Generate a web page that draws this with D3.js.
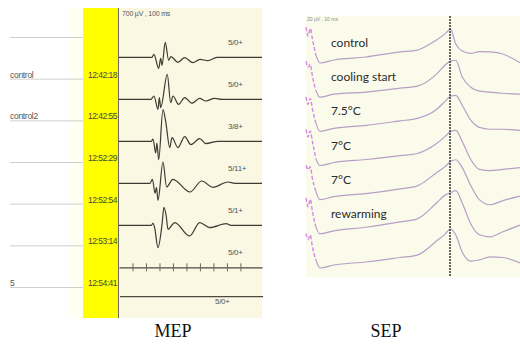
<!DOCTYPE html>
<html>
<head>
<meta charset="utf-8">
<script src="https://cdn.jsdelivr.net/npm/d3@7"></script>
<style>
  html, body { margin: 0; padding: 0; background: #fff; }
  svg { display: block; }
</style>
</head>
<body>
<div id="chart"></div>
<script>
// ---- MEP panel data ----
const mepRowLabels = ['', 'control', 'control2', '', '', '', '5'];
const mepClock = ['', '12:42:18', '12:42:55', '12:52:29', '12:52:54', '12:53:14', '12:54:41'];
const mepScores = ['5/0+', '5/0+', '3/8+', '5/11+', '5/1+', '5/0+', '5/0+'];
const mepScaleText = '700 \u00b5V , 100 ms';
const mepTicks = [10, 20, 30, 40, 50, 60, 70, 80, 90];

// time (ms) / amplitude (µV) turning points of each response
const mep1T = [0, 24.4, 25.9, 29.4, 30.9, 31.9, 34.3, 36.8, 38.5, 43.7, 48.7, 54.8, 60, 65.9, 72.6, 106];
const mep1V = [0, 0, 150, -550, -50, -400, 750, -150, 30, -250, -20, -270, -100, -170, 0, 0];
const mep2T = [0, 23.7, 25.9, 28.9, 29.9, 30.9, 35.8, 38.3, 40, 44.2, 48.7, 54.1, 59.8, 64.4, 70.9, 76.3, 106];
const mep2V = [0, 0, 165, -500, 85, -415, 1250, -165, 165, -250, 85, -200, 50, -85, 50, 0, 0];
const mep3T = [0, 23.9, 25.2, 27.2, 28.1, 29.4, 32.6, 34.6, 37.6, 39.3, 43.7, 48.7, 53.3, 59.8, 64.4, 73.3, 106];
const mep3V = [0, 0, 115, -585, -85, -915, 1585, 1000, -315, 185, -315, 235, -165, 135, -115, 0, 0];
const mep4T = [0, 23, 24.8, 26.7, 27.8, 28.9, 32.6, 35.3, 40, 52.6, 61.3, 69.6, 80.7, 85.9, 106];
const mep4V = [0, 0, 200, -500, -200, -850, 1065, -185, 200, -435, 115, -200, 65, 0, 0];
const mep5T = [0, 23.9, 25.2, 26.4, 28.9, 31.9, 33.3, 35, 36.3, 41.3, 52.4, 59.8, 67.2, 79.5, 83, 106];
const mep5V = [0, 0, 100, -115, -1115, 50, 900, 465, -200, 135, -535, 135, -115, 85, 0, 0];
const mepFlatT = [0, 106];
const mepFlatV = [0, 0];

// ---- SEP panel data ----
const sepLabels = ['control', 'cooling start', '7.5\u00b0C', '7\u00b0C', '7\u00b0C', 'rewarming', ''];
const sepScaleText = '20 \u00b5V , 10 ms';
const sepT = [0, 1, 2, 3, 4.5, 6.5, 13, 28, 44, 52, 61, 65, 67.5, 70, 73, 77, 81, 86, 92, 100];
const sepControl  = [12, 9, 11.5, 8, 3, 0, 1, 2, 3.7, 4.3, 7.7, 9.7, 11.3, 6.3, 4, 3.2, 3.8, 3.7, 3, 0.1];
const sepCooling  = [12, 10, 11, 7, 2.5, 0, 1, 1.7, 3, 3.7, 7.7, 10.7, 12, 12.3, 6.7, 3.3, 2, 1.7, 1.3, 1];
const sep75       = [11.5, 9, 11, 7.5, 3, 0, 1, 2, 3.5, 4.3, 7.3, 10, 11.7, 12, 8.7, 3.7, 1.3, 0.7, 0.7, 0.3];
const sep7a       = [12, 9.5, 11.5, 8, 2.5, 0, 1, 2, 3.3, 4, 7.3, 9.7, 11.3, 11.7, 8, 2, -1.3, -1.7, -1.3, -0.7];
const sep7b       = [11.5, 10, 11, 7, 3, 0, 1, 2, 3.6, 4.6, 9, 11, 12.7, 13.3, 10.7, 4.7, 0, -1.7, -0.3, 1.2];
const sepRewarm   = [12, 9, 11.5, 7.5, 2.5, 0, 1, 2.2, 4, 5, 10.3, 12.9, 13.7, 14.4, 10.3, 3.3, -0.3, -1, 0.7, 2.9];
const sepLast     = [11.5, 9.5, 11, 7, 3, 0, 1, 2, 3.5, 4.3, 9, 11.3, 13, 11, 5.3, 2.3, 2.7, 3.7, 3.5, 1.7];
const sepPeakLatency = 67.3;
const sepArtifactEnd = 4.5;

const captions = ['MEP', 'SEP'];

const width = 520, height = 347;
const svg = d3.select('#chart').append('svg')
  .attr('width', width)
  .attr('height', height);

// ===== MEP =====
const mepX = d3.scaleLinear().domain([0, 106]).range([119, 262]);
const mepAmp = d3.scaleLinear().domain([0, 700]).range([0, 14]);
const mepRow = d3.scalePoint().domain(d3.range(6)).range([57.3, 267.3]);
const mepLine = d3.scalePoint().domain(d3.range(7)).range([37, 287]);

svg.append('rect').attr('x', 70).attr('y', 8).attr('width', 13).attr('height', 310).attr('fill', '#fffff2');
svg.append('rect').attr('x', 83).attr('y', 8).attr('width', 35).attr('height', 310).attr('fill', '#ffff00');
svg.append('rect').attr('x', 118).attr('y', 8).attr('width', 144).attr('height', 310).attr('fill', '#faf8e3');
svg.append('line').attr('x1', 118.5).attr('x2', 118.5).attr('y1', 8).attr('y2', 318)
  .attr('stroke', '#6a6a5a').attr('stroke-width', 1);

// left rows
const rows = svg.append('g');
rows.selectAll('line').data(d3.range(7)).enter().append('line')
  .attr('x1', 10).attr('x2', 83)
  .attr('y1', d => mepLine(d) + 0.5).attr('y2', d => mepLine(d) + 0.5)
  .attr('stroke', '#cfcfcf');
rows.selectAll('text.lbl').data(mepRowLabels).enter().append('text')
  .attr('class', 'lbl')
  .attr('x', 10).attr('y', (d, i) => mepLine(i) - 1)
  .style('font-family', 'Liberation Sans, Arial, sans-serif')
  .style('font-size', '8.5px').style('fill', '#555').style('letter-spacing', '-0.3px')
  .text(d => d);
rows.selectAll('text.clk').data(mepClock).enter().append('text')
  .attr('class', 'clk')
  .attr('x', 117).attr('y', (d, i) => mepLine(i) - 1)
  .attr('text-anchor', 'end')
  .style('font-family', 'Liberation Sans, Arial, sans-serif')
  .style('font-size', '8.5px').style('fill', '#4a4a3a').style('letter-spacing', '-0.5px')
  .text(d => d);

svg.append('text').attr('x', 122).attr('y', 16)
  .style('font-family', 'Liberation Sans, Arial, sans-serif')
  .style('font-size', '7px').style('fill', '#555').style('letter-spacing', '-0.2px')
  .text(mepScaleText);

// responses
const mepWaves = [[mep1T, mep1V], [mep2T, mep2V], [mep3T, mep3V], [mep4T, mep4V], [mep5T, mep5V]];
mepWaves.forEach(([ts, vs], i) => {
  const pts = ts.map((t, k) => [t, vs[k]]);
  const line = d3.line()
    .x(d => mepX(d[0]))
    .y(d => mepRow(i) - mepAmp(d[1]))
    .curve(d3.curveMonotoneX);
  svg.append('path').datum(pts).attr('d', line)
    .attr('fill', 'none').attr('stroke', '#3c3c34').attr('stroke-width', 1.2);
});

// row with ticks (time axis)
const tickAxis = svg.append('g')
  .attr('transform', `translate(0,${mepRow(5)})`)
  .call(d3.axisBottom(mepX).tickValues(mepTicks).tickSize(4).tickSizeOuter(0).tickFormat(''));
tickAxis.select('.domain').attr('stroke', '#4a4a40').attr('stroke-width', 1.2);
tickAxis.selectAll('.tick line').attr('y1', -4).attr('stroke', '#6a6a60');

// last flat row
const lastY = mepRow(5) + mepRow.step() * 0.7;
svg.append('path')
  .datum(mepFlatT.map((t, k) => [t, mepFlatV[k]]))
  .attr('d', d3.line().x(d => mepX(d[0]) + 1).y(d => lastY - mepAmp(d[1])))
  .attr('stroke', '#4a4a40').attr('stroke-width', 1.2);

// score labels
svg.selectAll('text.score').data(mepScores).enter().append('text')
  .attr('class', 'score')
  .attr('x', (d, i) => i < 6 ? 228 : 215)
  .attr('y', (d, i) => i < 6 ? mepRow(i) - 12 : lastY + 7)
  .style('font-family', 'Liberation Sans, Arial, sans-serif')
  .style('font-size', '8px').style('fill', '#555').style('letter-spacing', '-0.3px')
  .text(d => d);

// ===== SEP =====
const sepX = d3.scaleLinear().domain([0, 100]).range([306, 520]);
const sepAmp = d3.scaleLinear().domain([0, 10]).range([0, 30]);
const sepRow = d3.scalePoint().domain(d3.range(7)).range([63, 268]);

svg.append('rect').attr('x', 306).attr('y', 16).attr('width', 214).attr('height', 261).attr('fill', '#fbfbec');

svg.append('text').attr('x', 307).attr('y', 21)
  .style('font-family', 'Liberation Sans, Arial, sans-serif')
  .style('font-size', '5px').style('fill', '#888')
  .text(sepScaleText);

const sepTraces = [sepControl, sepCooling, sep75, sep7a, sep7b, sepRewarm, sepLast];
sepTraces.forEach((vals, i) => {
  const pts = sepT.map((t, k) => [t, vals[k]]);
  const line = d3.line()
    .x(d => sepX(d[0]))
    .y(d => sepRow(i) - sepAmp(d[1]))
    .curve(d3.curveMonotoneX);
  svg.append('path').datum(pts.filter(d => d[0] <= sepArtifactEnd)).attr('d', line)
    .attr('fill', 'none').attr('stroke', '#d58ae6').attr('stroke-width', 1.4)
    .attr('stroke-dasharray', '4,2');
  svg.append('path').datum(pts.filter(d => d[0] >= sepArtifactEnd)).attr('d', line)
    .attr('fill', 'none').attr('stroke', '#b79fc6').attr('stroke-width', 1.2);
});

svg.append('line')
  .attr('x1', sepX(sepPeakLatency)).attr('x2', sepX(sepPeakLatency))
  .attr('y1', 16).attr('y2', 277)
  .attr('stroke', '#333').attr('stroke-width', 1.5).attr('stroke-dasharray', '2,1');

svg.selectAll('text.sep').data(sepLabels).enter().append('text')
  .attr('class', 'sep')
  .attr('x', 331).attr('y', (d, i) => sepRow(i) - 16)
  .style('font-family', 'Lato, "Open Sans", sans-serif')
  .style('font-size', '12px').style('fill', '#2a2a2a')
  .text(d => d);

// captions
svg.selectAll('text.cap').data(captions).enter().append('text')
  .attr('class', 'cap')
  .attr('x', (d, i) => i === 0 ? 173 : 386).attr('y', 337)
  .attr('text-anchor', 'middle')
  .style('font-family', '"Liberation Serif", "Times New Roman", serif')
  .style('font-size', '18px').style('fill', '#111')
  .text(d => d);
</script>
</body>
</html>
